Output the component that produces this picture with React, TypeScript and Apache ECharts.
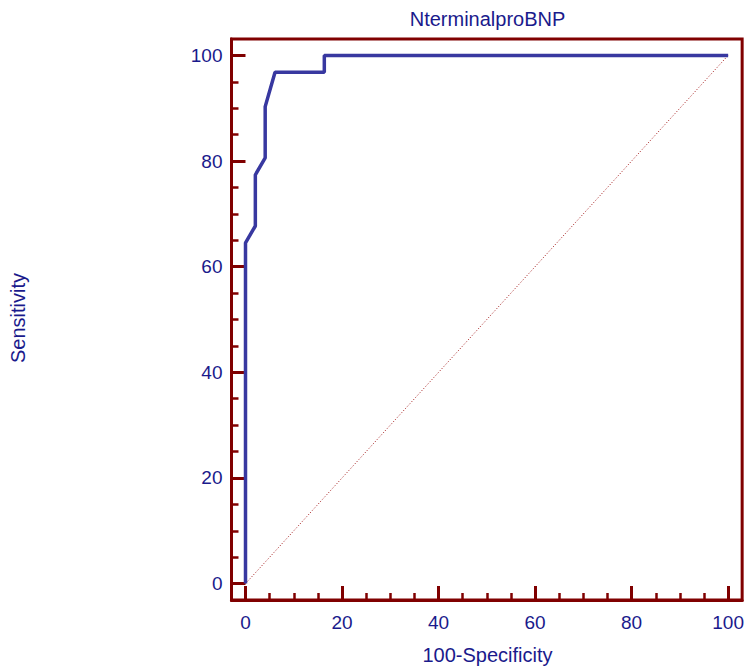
import React, { useEffect, useRef } from "react";
import * as echarts from "echarts";

const titleText = "NterminalproBNP";
const xName = "100-Specificity";
const yName = "Sensitivity";
const rocX = [0, 0, 2.04, 2.04, 4.08, 4.08, 6.12, 16.33, 16.33, 100];
const rocY = [0, 64.5, 67.7, 77.4, 80.6, 90.3, 96.8, 96.8, 100, 100];
const diagX = [0, 100];
const diagY = [0, 100];
const majorTicks = [0, 20, 40, 60, 80, 100];
const minorTicks = [5, 10, 15, 25, 30, 35, 45, 50, 55, 65, 70, 75, 85, 90, 95];

const FRAME = "#800000";
const TEXT = "#1a1a8c";
const FONT = "'Liberation Sans', Arial, sans-serif";

export default function App() {
  const ref = useRef<HTMLDivElement>(null);
  useEffect(() => {
    if (!ref.current) return;
    const chart = echarts.init(ref.current, null, { renderer: "svg" });
    const mainAxis = (min: number, max: number, isX: boolean) => ({
      type: "value",
      min,
      max,
      position: isX ? "bottom" : "left",
      axisLine: { show: true, onZero: false, lineStyle: { color: FRAME, width: 3 } },
      axisTick: {
        show: true,
        inside: true,
        length: 14,
        customValues: majorTicks,
        lineStyle: { color: FRAME, width: 3 },
      },
      axisLabel: {
        show: true,
        customValues: majorTicks,
        color: TEXT,
        fontSize: 19,
        fontFamily: FONT,
        margin: isX ? 13 : 9,
      },
      splitLine: { show: false },
    });
    const minorAxis = (min: number, max: number, isX: boolean) => ({
      type: "value",
      min,
      max,
      position: isX ? "bottom" : "left",
      offset: 0,
      axisLine: { show: false, onZero: false },
      axisTick: {
        show: true,
        inside: true,
        length: 7,
        customValues: minorTicks,
        lineStyle: { color: FRAME, width: 2.5 },
      },
      axisLabel: { show: false },
      splitLine: { show: false },
    });
    const xs = [-2.9, 102.9];
    const ys = [-3.1, 103.1];
    chart.setOption({
      animation: false,
      backgroundColor: "#ffffff",
      grid: {
        left: 231.5,
        right: 3.5,
        top: 39,
        bottom: 69,
        show: true,
        borderColor: FRAME,
        borderWidth: 3,
        backgroundColor: "transparent",
      },
      xAxis: [mainAxis(xs[0], xs[1], true), minorAxis(xs[0], xs[1], true)],
      yAxis: [mainAxis(ys[0], ys[1], false), minorAxis(ys[0], ys[1], false)],
      graphic: [
        {
          type: "text",
          x: 487.5,
          y: 19,
          style: {
            text: titleText,
            fill: TEXT,
            font: `20px ${FONT}`,
            textAlign: "center",
            textVerticalAlign: "middle",
          },
        },
        {
          type: "text",
          x: 487.5,
          y: 655,
          style: {
            text: xName,
            fill: TEXT,
            font: `20px ${FONT}`,
            textAlign: "center",
            textVerticalAlign: "middle",
          },
        },
        {
          type: "text",
          x: 18,
          y: 318,
          rotation: Math.PI / 2,
          style: {
            text: yName,
            fill: TEXT,
            font: `20px ${FONT}`,
            textAlign: "center",
            textVerticalAlign: "middle",
          },
        },
      ],
      series: [
        {
          type: "line",
          xAxisIndex: 0,
          yAxisIndex: 0,
          data: diagX.map((x, i) => [x, diagY[i]]),
          showSymbol: false,
          symbol: "none",
          lineStyle: { color: "#a01010", width: 1, type: [1, 2] },
          z: 2,
        },
        {
          type: "line",
          xAxisIndex: 0,
          yAxisIndex: 0,
          data: rocX.map((x, i) => [x, rocY[i]]),
          showSymbol: false,
          symbol: "none",
          lineStyle: { color: "#3838a0", width: 3.5 },
          z: 3,
        },
      ],
    });
    return () => chart.dispose();
  }, []);
  return <div ref={ref} style={{ width: 747, height: 669, position: "absolute", left: 0, top: 0 }} />;
}
